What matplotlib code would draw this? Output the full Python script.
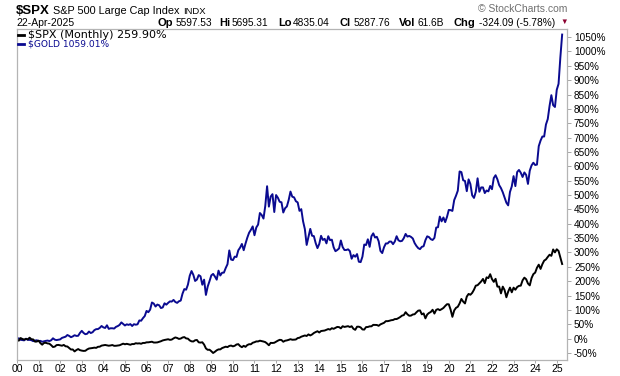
import numpy as np
from matplotlib import pyplot as plt
from matplotlib.lines import Line2D

# Monthly closes, Jan 2000 .. Apr 2025 (one row per year)
spx_close = [
    1394, 1366, 1499, 1452, 1421, 1455, 1431, 1518, 1437, 1429, 1315, 1320,
    1366, 1240, 1160, 1249, 1256, 1224, 1211, 1134, 1041, 1060, 1139, 1148,
    1130, 1107, 1147, 1077, 1067, 990, 912, 916, 815, 886, 936, 880,
    856, 841, 848, 917, 964, 975, 990, 1008, 996, 1051, 1058, 1112,
    1131, 1145, 1126, 1107, 1121, 1141, 1102, 1104, 1115, 1130, 1174, 1212,
    1181, 1204, 1181, 1157, 1192, 1191, 1234, 1220, 1229, 1207, 1249, 1248,
    1280, 1281, 1295, 1311, 1270, 1270, 1277, 1304, 1336, 1378, 1401, 1418,
    1438, 1407, 1421, 1482, 1531, 1503, 1455, 1474, 1527, 1549, 1481, 1468,
    1379, 1331, 1323, 1386, 1400, 1280, 1267, 1283, 1165, 969, 896, 903,
    826, 735, 798, 873, 919, 919, 987, 1021, 1057, 1036, 1096, 1115,
    1074, 1104, 1169, 1187, 1089, 1031, 1102, 1049, 1141, 1183, 1181, 1258,
    1286, 1327, 1326, 1364, 1345, 1321, 1292, 1219, 1131, 1253, 1247, 1258,
    1312, 1366, 1408, 1398, 1310, 1362, 1379, 1407, 1441, 1412, 1416, 1426,
    1498, 1515, 1569, 1598, 1631, 1606, 1686, 1633, 1682, 1757, 1806, 1848,
    1783, 1859, 1872, 1884, 1924, 1960, 1931, 2003, 1972, 2018, 2068, 2059,
    1995, 2105, 2068, 2086, 2107, 2063, 2104, 1972, 1920, 2079, 2080, 2044,
    1940, 1932, 2060, 2065, 2097, 2099, 2174, 2171, 2168, 2126, 2199, 2239,
    2279, 2364, 2363, 2384, 2412, 2423, 2470, 2472, 2519, 2575, 2648, 2674,
    2824, 2714, 2641, 2648, 2705, 2718, 2816, 2902, 2914, 2712, 2760, 2507,
    2704, 2784, 2834, 2946, 2752, 2942, 2980, 2926, 2977, 3038, 3141, 3231,
    3226, 2954, 2585, 2912, 3044, 3100, 3271, 3500, 3363, 3270, 3622, 3756,
    3714, 3811, 3973, 4181, 4204, 4298, 4395, 4523, 4308, 4605, 4567, 4766,
    4516, 4374, 4530, 4132, 4132, 3785, 4130, 3955, 3586, 3872, 4080, 3840,
    4077, 3970, 4109, 4169, 4180, 4450, 4589, 4508, 4288, 4194, 4568, 4770,
    4846, 5096, 5254, 5036, 5278, 5460, 5522, 5648, 5762, 5705, 6032, 5882,
    6041, 5955, 5612, 5288,
]
gold_close = [
    283, 293, 278, 275, 272, 289, 277, 277, 274, 264, 270, 273,
    265, 267, 258, 263, 267, 270, 265, 273, 293, 279, 275, 279,
    282, 297, 303, 309, 326, 317, 304, 312, 324, 317, 318, 347,
    368, 347, 334, 339, 361, 346, 354, 375, 385, 386, 398, 417,
    403, 397, 424, 388, 394, 394, 391, 408, 416, 428, 453, 438,
    422, 434, 428, 436, 417, 435, 430, 434, 473, 470, 496, 517,
    569, 556, 582, 654, 643, 613, 633, 626, 598, 604, 646, 632,
    650, 665, 663, 680, 659, 650, 666, 673, 743, 789, 783, 834,
    923, 971, 933, 871, 885, 930, 918, 833, 884, 730, 815, 869,
    927, 942, 916, 884, 975, 926, 954, 955, 1001, 1040, 1179, 1087,
    1081, 1116, 1113, 1180, 1207, 1244, 1181, 1247, 1307, 1357, 1386, 1421,
    1332, 1410, 1439, 1556, 1536, 1500, 1628, 1826, 1620, 1722, 1746, 1566,
    1737, 1710, 1669, 1664, 1561, 1604, 1622, 1687, 1772, 1720, 1714, 1675,
    1663, 1578, 1595, 1473, 1393, 1234, 1313, 1396, 1327, 1323, 1253, 1202,
    1244, 1326, 1284, 1296, 1250, 1322, 1282, 1287, 1210, 1171, 1183, 1199,
    1279, 1213, 1183, 1183, 1190, 1172, 1095, 1132, 1115, 1142, 1065, 1061,
    1116, 1238, 1233, 1291, 1215, 1322, 1351, 1309, 1316, 1272, 1174, 1152,
    1211, 1249, 1249, 1268, 1268, 1242, 1269, 1322, 1281, 1271, 1275, 1303,
    1345, 1318, 1325, 1315, 1299, 1253, 1224, 1202, 1192, 1215, 1221, 1282,
    1321, 1313, 1292, 1284, 1305, 1409, 1413, 1520, 1472, 1511, 1464, 1517,
    1587, 1585, 1577, 1686, 1730, 1781, 1975, 1968, 1886, 1879, 1776, 1895,
    1848, 1734, 1708, 1769, 1906, 1770, 1814, 1814, 1757, 1783, 1774, 1829,
    1796, 1909, 1937, 1896, 1837, 1807, 1765, 1711, 1660, 1633, 1768, 1824,
    1928, 1827, 1969, 1990, 1962, 1919, 1965, 1940, 1849, 1983, 2036, 2063,
    2040, 2044, 2230, 2286, 2327, 2327, 2448, 2503, 2635, 2744, 2643, 2625,
    2798, 2858, 3124, 3355,
]
spx_base = 1469.25   # Dec 1999 close
gold_base = 289.5
year_labels = ["%02d" % y for y in range(26)]
pct_ticks = list(range(-50, 1051, 50))

spx_pct = np.array(spx_close) / spx_base * 100 - 100
gold_pct = np.array(gold_close) / gold_base * 100 - 100
t = np.arange(len(spx_close)) / 12.0

W, H = 620, 376
fig = plt.figure(figsize=(W / 100, H / 100), dpi=100)
plt.rcParams['font.family'] = ['Liberation Sans', 'DejaVu Sans']

def fx(x):
    return x / W

def fy(y):
    return 1 - y / H

# plot area 17..567 x 28.5..360 px
ax = fig.add_axes([fx(17), fy(360), 550 / W, 331.5 / H])
ax.plot(t, gold_pct, color='#0a0a90', lw=1.4)
ax.plot(t, spx_pct, color='black', lw=1.4)

ax.set_xlim(0, 550 / 21.59)
ax.set_ylim(-74.4, 1080)
ax.set_xticks(range(26))
ax.set_xticklabels(year_labels)
ax.set_yticks(pct_ticks)
ax.set_yticklabels(["%d%%" % v for v in pct_ticks])
ax.yaxis.tick_right()
ax.tick_params(axis='y', length=3, width=0.6, color='#999999', labelsize=7.2, pad=2)
ax.tick_params(axis='x', length=2, width=0.6, color='#999999', labelsize=7.5, pad=1)
for s in ax.spines.values():
    s.set_color('#b4b4b4')
    s.set_linewidth(0.9)

# header
fig.text(fx(16), fy(14), "$SPX", fontsize=9.5, fontweight='bold', va='baseline')
fig.text(fx(53), fy(14), "S&P 500 Large Cap Index", fontsize=7.8, va='baseline')
fig.text(fx(183), fy(14), "INDX", fontsize=6.8, va='baseline')
fig.text(fx(16), fy(26), "22-Apr-2025", fontsize=7.5, va='baseline')
fig.text(fx(567), fy(12), "\u00a9 StockCharts.com", fontsize=7.5, color='#707070',
         ha='right', va='baseline')

parts = [(157, "Op", True), (176, "5597.53", False), (219, "Hi", True),
         (231.5, "5695.31", False), (278, "Lo", True), (292.5, "4835.04", False),
         (340, "Cl", True), (354, "5287.76", False), (399, "Vol", True),
         (417, "61.6B", False), (454, "Chg", True), (479, "-324.09 (-5.78%)", False)]
for x, s, b in parts:
    fig.text(fx(x), fy(26), s, fontsize=8 if b else 7.3,
             fontweight='bold' if b else 'normal', va='baseline')
fig.text(fx(564), fy(22.5), "\u25bc", fontsize=5.5, color='#8b0030', ha='center', va='center')

# legend
fig.add_artist(Line2D([fx(18), fx(24)], [fy(35), fy(35)], color='black', lw=2))
fig.text(fx(27.5), fy(35), "$SPX (Monthly) 259.90%", fontsize=8, va='center',
         family='DejaVu Sans')
fig.add_artist(Line2D([fx(18), fx(24)], [fy(44), fy(44)], color='#0a0a90', lw=2))
fig.text(fx(27.5), fy(44), "$GOLD 1059.01%", fontsize=6.6, va='center', color='#0a0a90',
         family='DejaVu Sans')

fig.savefig('out.png', dpi=100)
